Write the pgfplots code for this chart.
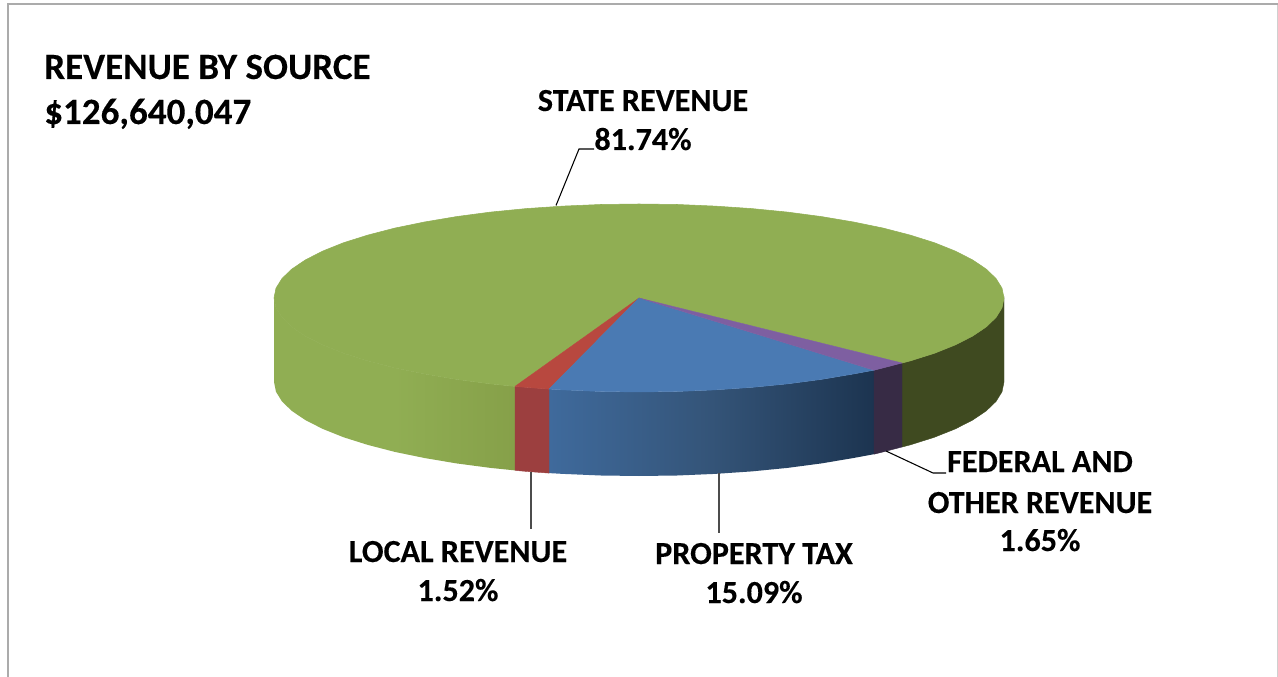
\documentclass[border=0pt]{standalone}
\usepackage{fontspec}
\setmainfont[BoldFeatures={FakeBold=0.2}]{Carlito}
\usepackage{pgfplots}
\pgfplotsset{compat=1.18}
\definecolor{greentop}{HTML}{90AE53}
\definecolor{greensidedk}{HTML}{86A049}
\definecolor{darkside}{HTML}{3F4A20}
\definecolor{bluetop}{HTML}{4A7AB3}
\definecolor{blueleft}{HTML}{3F6A9C}
\definecolor{bluemid}{HTML}{345478}
\definecolor{blueright}{HTML}{1C3450}
\definecolor{redtop}{HTML}{B8483F}
\definecolor{redside}{HTML}{9C3F3F}
\definecolor{purptop}{HTML}{7E5FA1}
\definecolor{purpside}{HTML}{372B45}
\definecolor{framecol}{HTML}{ABABAB}
\definecolor{framelt}{HTML}{D0D0D0}
\tikzset{
  lab/.style={font=\fontsize{24.1}{28}\selectfont\bfseries, anchor=base, text=black, inner sep=0pt},
  ttl/.style={font=\fontsize{27.8}{33}\selectfont\bfseries, anchor=base west, text=black, inner sep=0pt},
}
\begin{document}
\begin{tikzpicture}
\begin{axis}[
  scale only axis, width=958.5pt, height=507.75pt,
  xmin=0, xmax=1278, ymin=0, ymax=677, y dir=reverse,
  hide axis, clip=true,
]
% page
\addplot[fill=white, draw=none] coordinates {(0,0) (1278,0) (1278,677) (0,677)};
% frame
\addplot[framelt, line width=1pt] coordinates {(1277.5,4) (1277.5,677)};
\addplot[framecol, line width=1pt] coordinates {(8,677) (8,4) (1277.5,4)};

% green side, left and front (middle color has to come last)
\addplot[draw=none, left color=greentop, right color=greensidedk, middle color=greentop] coordinates {
  (274,298) (276,307.8) (282,317.5) (291.9,327) (305.6,336.2) (322.9,345) (343.7,353.3) (367.8,360.9)
  (394.8,367.9) (424.5,374) (456.5,379.4) (490.5,383.9) (515,386.4)
  (515,470.4) (490.5,467.9) (456.5,463.4) (424.5,458) (394.8,451.9) (367.8,444.9) (343.7,437.3)
  (322.9,429) (305.6,420.2) (291.9,411) (282,401.5) (276,391.8) (274,382)};
% blue side
\addplot[draw=none, left color=blueleft, right color=blueright, middle color=bluemid] coordinates {
  (549,389.1) (563.1,389.9) (600.8,391.5) (639,392) (677.2,391.5) (714.9,389.9) (751.8,387.4)
  (787.5,383.9) (821.5,379.4) (853.5,374) (874,370.2)
  (874,454.2) (853.5,458) (821.5,463.4) (787.5,467.9) (751.8,471.4) (714.9,473.9) (677.2,475.5)
  (639,476) (600.8,475.5) (563.1,473.9) (549,473.1)};
% dark green side, right
\addplot[fill=darkside, draw=darkside, line width=0.3pt] coordinates {
  (902,363) (910.2,360.9) (934.3,353.3) (955.1,345) (972.4,336.2) (986.1,327) (996,317.5) (1002,307.8) (1004,298)
  (1004,382) (1002,391.8) (996,401.5) (986.1,411) (972.4,420.2) (955.1,429) (934.3,437.3) (910.2,444.9) (902,447) (902,363)};
% red side
\addplot[fill=redside, draw=redside, line width=0.3pt] coordinates {
  (515,386.4) (526.2,387.4) (549,389.1) (549,473.1) (526.2,471.4) (515,470.4) (515,386.4)};
% purple side
\addplot[fill=purpside, draw=purpside, line width=0.3pt] coordinates {
  (874,370.2) (883.2,367.9) (902,363) (902,447) (883.2,451.9) (874,454.2) (874,370.2)};

% green top
\addplot[fill=greentop, draw=greentop, line width=0.4pt] coordinates {
  (639,298) (902,363) (910.2,360.9) (934.3,353.3) (955.1,345) (972.4,336.2) (986.1,327) (996,317.5) (1002,307.8) (1004,298)
  (1002,288.2) (996,278.5) (986.1,269) (972.4,259.8) (955.1,251) (934.3,242.7) (910.2,235.1) (883.2,228.1) (853.5,222)
  (821.5,216.6) (787.5,212.1) (751.8,208.6) (714.9,206.1) (677.2,204.5) (639,204)
  (600.8,204.5) (563.1,206.1) (526.2,208.6) (490.5,212.1) (456.5,216.6) (424.5,222) (394.8,228.1) (367.8,235.1)
  (343.7,242.7) (322.9,251) (305.6,259.8) (291.9,269) (282,278.5) (276,288.2) (274,298)
  (276,307.8) (282,317.5) (291.9,327) (305.6,336.2) (322.9,345) (343.7,353.3) (367.8,360.9) (394.8,367.9)
  (424.5,374) (456.5,379.4) (490.5,383.9) (515,386.4) (639,298)};
% red top
\addplot[fill=redtop, draw=redtop, line width=0.3pt] coordinates {
  (639,298) (515,386.4) (526.2,387.4) (549,389.1) (639,298)};
% blue top
\addplot[fill=bluetop, draw=bluetop, line width=0.3pt] coordinates {
  (639,298) (549,389.1) (563.1,389.9) (600.8,391.5) (639,392) (677.2,391.5) (714.9,389.9) (751.8,387.4)
  (787.5,383.9) (821.5,379.4) (853.5,374) (874,370.2) (639,298)};
% purple top
\addplot[fill=purptop, draw=purptop, line width=0.3pt] coordinates {
  (639,298) (874,370.2) (883.2,367.9) (902,363) (639,298)};

% leader lines
\addplot[black, line width=0.8pt] coordinates {(556,205.5) (579,149) (594,149)};
\addplot[black!70, line width=0.9pt] coordinates {(531,472) (531,529)};
\addplot[black!70, line width=0.9pt] coordinates {(719,473) (719,533)};
\addplot[black, line width=0.8pt] coordinates {(886,451) (933,473) (946,473)};

% texts
\node[ttl] at (axis cs:44,79) {REVENUE BY SOURCE};
\node[ttl] at (axis cs:44,124) {\$126,640,047};
\node[lab] at (axis cs:643,111) {STATE REVENUE};
\node[lab] at (axis cs:643,150) {81.74\%};
\node[lab] at (axis cs:458,562) {LOCAL REVENUE};
\node[lab] at (axis cs:458,601) {1.52\%};
\node[lab] at (axis cs:754,564) {PROPERTY TAX};
\node[lab] at (axis cs:754,603) {15.09\%};
\node[lab] at (axis cs:1040,472) {FEDERAL AND};
\node[lab] at (axis cs:1040,513) {OTHER REVENUE};
\node[lab] at (axis cs:1040,551) {1.65\%};
\end{axis}
\end{tikzpicture}
\end{document}
